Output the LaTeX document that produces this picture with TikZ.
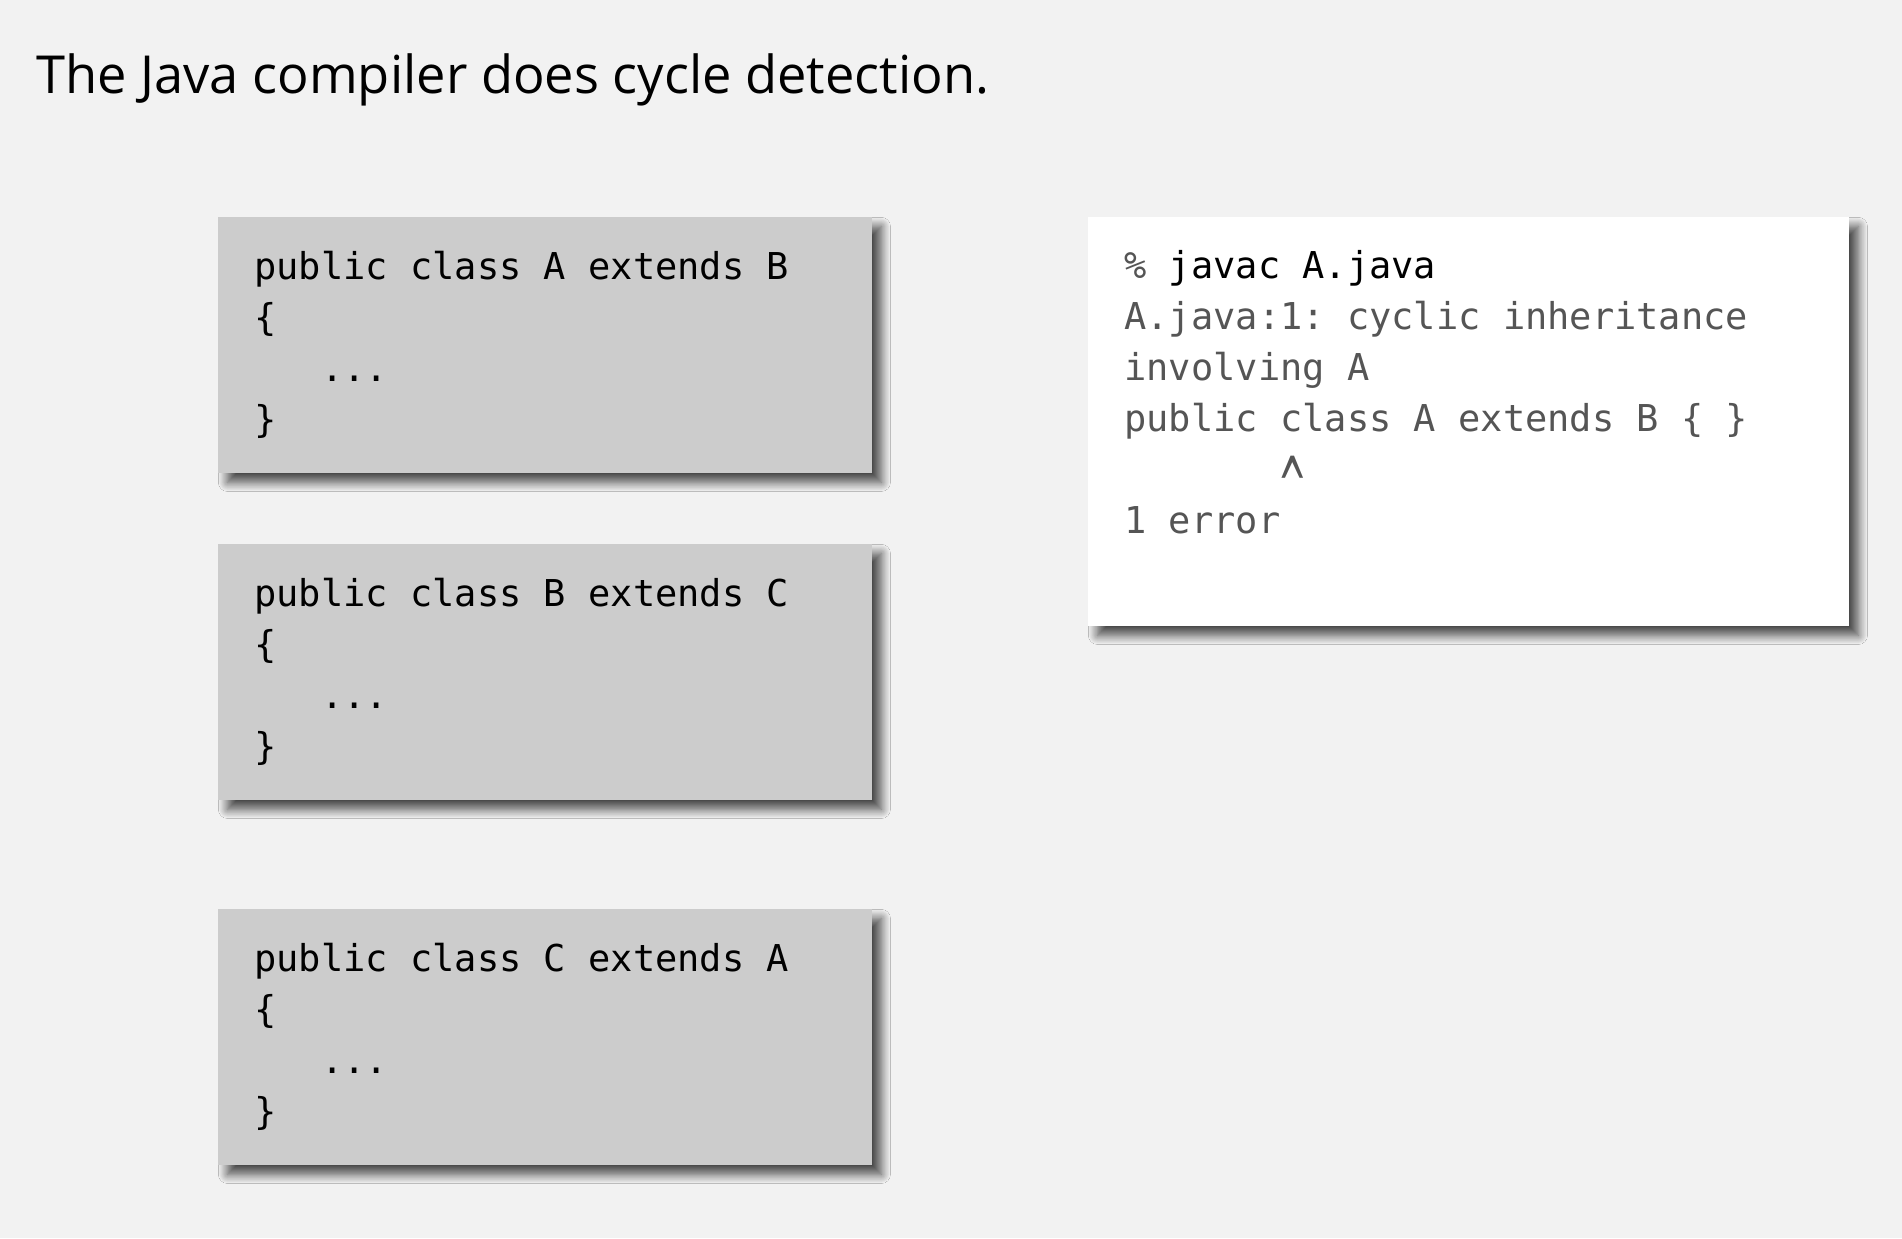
\documentclass[tikz,border=0pt]{standalone}
\usepackage{fontspec}
\setmainfont{Open Sans}
\newfontfamily\codigofont{DejaVu Sans Mono}
\usepackage{tikz}
\usetikzlibrary{shadows.blur}
\definecolor{fundo}{HTML}{F2F2F2}
\definecolor{cinzacaixa}{HTML}{CCCCCC}
\definecolor{cinzatexto}{HTML}{555555}
\frenchspacing

\begin{document}
\begin{tikzpicture}[x=0.5pt,y=-0.5pt]
\tikzstyle{caixa}=[rectangle, fill=cinzacaixa, minimum width=327pt, minimum height=128pt, anchor=north west, inner sep=0pt, blur shadow={shadow xshift=4.5pt, shadow yshift=-4.5pt, shadow blur radius=4.5pt, shadow blur steps=12, shadow opacity=70}]
\tikzstyle{saida}=[caixa, fill=white, minimum width=380.5pt, minimum height=204.5pt]
\tikzstyle{codigo}=[anchor=north west, inner sep=0pt, align=left, font=\codigofont\fontsize{18.5}{25.5}\selectfont]
 \fill[fundo] (0,0) rectangle (1902,1238);
 \useasboundingbox (0,0) rectangle (1902,1238);
 \node[anchor=base west, inner sep=0pt, font=\fontsize{26.2}{30}\selectfont] (titulo) at (36,93)
   {The Java compiler does cycle detection.};
 % as tres classes
 \node[caixa] (classeA) at (218,217) {};
 \node[codigo] (codigoA) at ([shift={(36,26.3)}]classeA.north west)
   {\strut public class A extends B\\\{\\\phantom{xxx}...\\\}};
 \node[caixa] (classeB) at (218,544) {};
 \node[codigo] (codigoB) at ([shift={(36,26.3)}]classeB.north west)
   {\strut public class B extends C\\\{\\\phantom{xxx}...\\\}};
 \node[caixa] (classeC) at (218,909) {};
 \node[codigo] (codigoC) at ([shift={(36,26.3)}]classeC.north west)
   {\strut public class C extends A\\\{\\\phantom{xxx}...\\\}};
 % saida do compilador
 \node[saida] (saida) at (1088,217) {};
 \node[codigo, text=cinzatexto] (erro) at ([shift={(36,25.3)}]saida.north west)
   {\strut\% {\color{black}javac A.java}\\A.java:1: cyclic inheritance\\involving A\\public class A extends B \{ \}\\\phantom{xxxxxxx}\smash{\raisebox{-16.7pt}{\scalebox{1.1}[2.2]{\textasciicircum}}}\\1 error};
\end{tikzpicture}
\end{document}
